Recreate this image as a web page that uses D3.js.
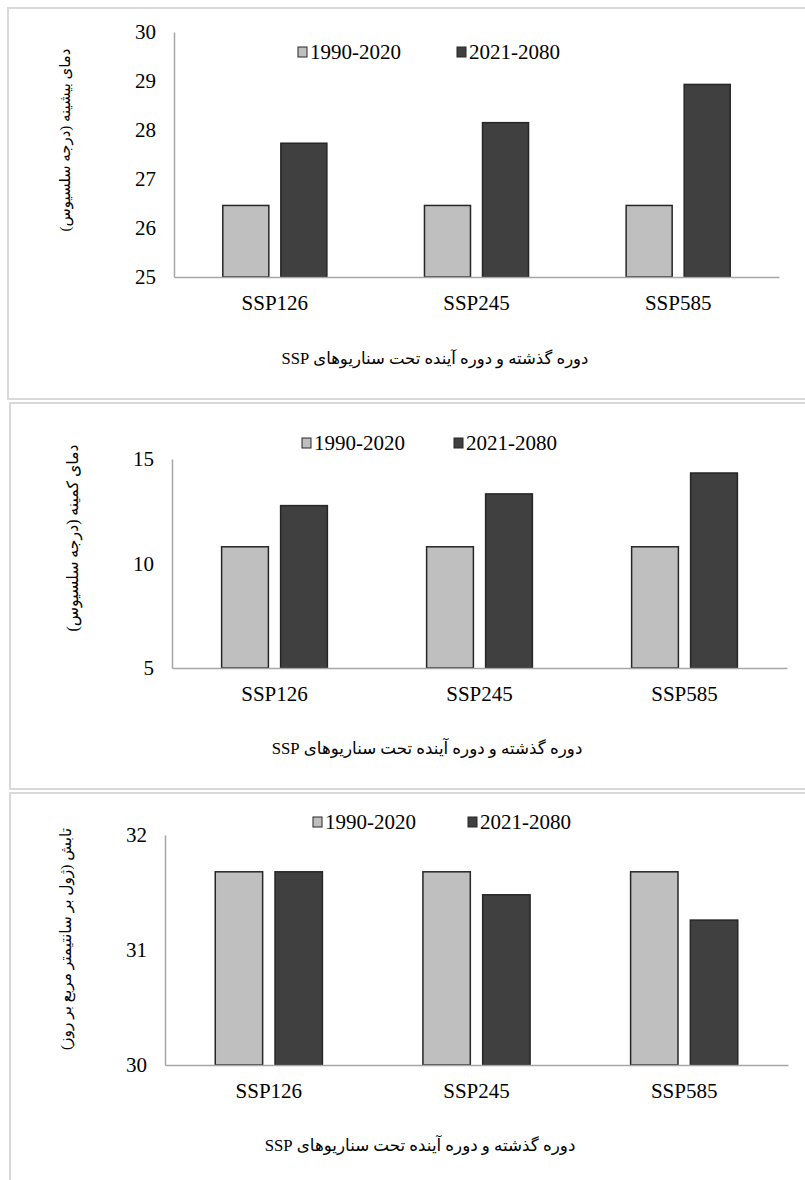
<!DOCTYPE html>
<html>
<head>
<meta charset="utf-8">
<script src="https://cdn.jsdelivr.net/npm/d3@7/dist/d3.min.js"></script>
<style>
  html, body { margin: 0; padding: 0; background: #ffffff; }
  svg { display: block; }
</style>
</head>
<body>
<svg id="chart" width="805" height="1180"></svg>
<script>
// Scenario categories and the two periods
const categories = ["SSP126", "SSP245", "SSP585"];
const seriesNames = ["1990-2020", "2021-2080"];

// Maximum temperature (°C)
const tmaxPast   = [26.46, 26.46, 26.46];
const tmaxFuture = [27.73, 28.15, 28.93];
const tmaxTicks  = [25, 26, 27, 28, 29, 30];

// Minimum temperature (°C)
const tminPast   = [10.8, 10.8, 10.8];
const tminFuture = [12.77, 13.33, 14.33];
const tminTicks  = [5, 10, 15];

// Solar radiation (J/cm²/day)
const radPast    = [31.68, 31.68, 31.68];
const radFuture  = [31.68, 31.48, 31.26];
const radTicks   = [30, 31, 32];

// Axis titles
const xTitle = "دوره گذشته و دوره آینده تحت سناریوهای SSP";
const yTitles = [
  "دمای بیشینه (درجه سلسیوس)",
  "دمای کمینه (درجه سلسیوس)",
  "تابش (ژول بر سانتیمتر مربع بر روز)"
];

const fills = ["#bfbfbf", "#404040"];
const LATIN = '"Liberation Serif", "Times New Roman", "DejaVu Serif", serif';
const PERSIAN = '"Liberation Serif", "DejaVu Sans", "Noto Sans", sans-serif';

// Panel layout
const panels = [
  { past: tmaxPast, future: tmaxFuture, ticks: tmaxTicks, yTitle: yTitles[0],
    box: { x: 8, y: 8, h: 391 }, plot: { l: 174, r: 779, t: 32, b: 277 },
    legendY: 52, legendX: [298, 457], titleX: 435, titleY: 358, titleW: 307,
    yTitleX: 65, yTitleY: 140, yTitleW: 183 },
  { past: tminPast, future: tminFuture, ticks: tminTicks, yTitle: yTitles[1],
    box: { x: 10, y: 403, h: 386 }, plot: { l: 172, r: 787, t: 459, b: 668 },
    legendY: 443, legendX: [302, 454], titleX: 427, titleY: 748, titleW: 311,
    yTitleX: 72, yTitleY: 538, yTitleW: 187 },
  { past: radPast, future: radFuture, ticks: radTicks, yTitle: yTitles[2],
    box: { x: 10, y: 793, h: 420 }, plot: { l: 165, r: 788, t: 835, b: 1065 },
    legendY: 822, legendX: [313, 468], titleX: 420, titleY: 1145, titleW: 311,
    yTitleX: 66, yTitleY: 939, yTitleW: 222 }
];

const svg = d3.select("#chart");

function fitText(sel, width) {
  const len = sel.node().getComputedTextLength();
  const fs = parseFloat(sel.style("font-size"));
  if (len > 0) sel.style("font-size", (fs * width / len).toFixed(2) + "px");
}

panels.forEach(p => {
  const g = svg.append("g");

  // panel frame
  g.append("rect")
    .attr("x", p.box.x).attr("y", p.box.y)
    .attr("width", 900).attr("height", p.box.h)
    .attr("fill", "#ffffff").attr("stroke", "#d9d9d9").attr("stroke-width", 2);

  const x0 = d3.scaleBand().domain(categories).range([p.plot.l, p.plot.r]).padding(0);
  const groupW = x0.bandwidth() * 0.516;
  const x1 = d3.scaleBand().domain(seriesNames)
    .range([-groupW / 2, groupW / 2]).paddingInner(0.207).paddingOuter(0);
  const y = d3.scaleLinear()
    .domain([p.ticks[0], p.ticks[p.ticks.length - 1]])
    .range([p.plot.b, p.plot.t]);

  const rows = categories.map((c, i) => ({ cat: c, values: [p.past[i], p.future[i]] }));

  // bars
  const grp = g.selectAll(".grp").data(rows).join("g")
    .attr("transform", d => `translate(${x0(d.cat) + x0.bandwidth() / 2},0)`);
  grp.selectAll("rect").data(d => d.values.map((v, k) => ({ s: seriesNames[k], v, k })))
    .join("rect")
    .attr("x", d => x1(d.s))
    .attr("width", x1.bandwidth())
    .attr("y", d => y(d.v))
    .attr("height", d => y(p.ticks[0]) - y(d.v))
    .attr("fill", d => fills[d.k])
    .attr("stroke", "#262626").attr("stroke-width", 1.5);

  // y axis
  const ya = g.append("g").attr("transform", `translate(${p.plot.l},0)`)
    .call(d3.axisLeft(y).tickValues(p.ticks).tickSize(0).tickPadding(18).tickFormat(d3.format("d")));
  ya.select(".domain").attr("stroke", "#a6a6a6").attr("stroke-width", 1.5);
  ya.selectAll("text").style("font-family", LATIN).style("font-size", "21px").attr("fill", "#000");

  // x axis
  const xa = g.append("g").attr("transform", `translate(0,${p.plot.b})`)
    .call(d3.axisBottom(x0).tickSize(0).tickPadding(18));
  xa.select(".domain").attr("stroke", "#a6a6a6").attr("stroke-width", 1.5);
  xa.selectAll("text").style("font-family", LATIN).style("font-size", "21px").attr("fill", "#000");

  // legend
  seriesNames.forEach((s, k) => {
    const lx = p.legendX[k];
    g.append("rect")
      .attr("x", lx).attr("y", p.legendY - 5)
      .attr("width", 9).attr("height", 10)
      .attr("fill", fills[k]).attr("stroke", "#262626").attr("stroke-width", 1);
    g.append("text")
      .style("font-family", LATIN).style("font-size", "21px")
      .attr("x", lx + 12).attr("y", p.legendY).attr("dy", "0.35em")
      .attr("fill", "#000").text(s);
  });

  // x title
  const xt = g.append("text")
    .style("font-family", PERSIAN).style("font-size", "16px").style("direction", "rtl")
    .attr("x", p.titleX).attr("y", p.titleY).attr("dy", "0.35em")
    .attr("text-anchor", "middle").attr("fill", "#000")
    .text(xTitle);
  fitText(xt, p.titleW);

  // y title
  const yt = g.append("text")
    .style("font-family", PERSIAN).style("font-size", "14px").style("direction", "rtl")
    .attr("transform", `translate(${p.yTitleX},${p.yTitleY}) rotate(-90)`)
    .attr("text-anchor", "middle").attr("dy", "0.35em")
    .attr("fill", "#000")
    .text(p.yTitle);
  fitText(yt, p.yTitleW);
});
</script>
</body>
</html>
